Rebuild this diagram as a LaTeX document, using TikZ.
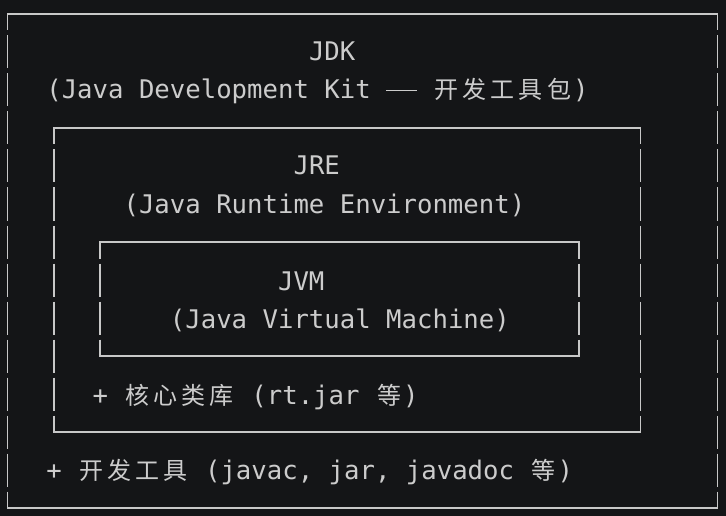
\documentclass[tikz,border=0pt]{standalone}
\usepackage{fontspec}
\newfontfamily\monof{DejaVu Sans Mono}
\newfontfamily\cjkfam{Noto Sans CJK SC}
\definecolor{bgc}{HTML}{141517}
\definecolor{txc}{HTML}{CCCCCC}
\definecolor{lnc}{HTML}{C8C8C8}
\newcommand\cjc[1]{\makebox[28.1pt][c]{\cjkfam\fontsize{24pt}{24pt}\selectfont #1}}
\newcommand\ddash{\makebox[30.9pt][c]{\rule[7.5pt]{31pt}{1.6pt}}}
\tikzset{
  vline/.style={draw=lnc, line width=1.7pt, dash pattern=on 33pt off 5pt, dash phase=16.5pt},
  hline/.style={draw=lnc, line width=1.7pt, line cap=rect},
  txt/.style={anchor=base west, inner sep=0pt, outer sep=0pt, text=txc,
    font=\monof\fontsize{25.66pt}{30pt}\selectfont}
}
\begin{document}
\begin{tikzpicture}[x=1pt,y=-1pt]
\fill[bgc] (0,0) rectangle (726,516);
\useasboundingbox (0,0) rectangle (726,516);
% outer box (JDK)
\draw[hline] (7.5,14) -- (717.5,14);
\draw[hline] (7.5,508) -- (717.5,508);
\draw[vline] (7.5,14) -- (7.5,508);
\draw[vline] (717.5,14) -- (717.5,508);
% JRE box
\draw[hline] (54,128) -- (640.5,128);
\draw[hline] (54,432) -- (640.5,432);
\draw[vline] (54,128) -- (54,432);
\draw[vline] (640.5,128) -- (640.5,432);
% JVM box
\draw[hline] (100.2,242) -- (579,242);
\draw[hline] (100.2,356) -- (579,356);
\draw[vline] (100.2,242) -- (100.2,356);
\draw[vline] (579,242) -- (579,356);
% texts
\node[txt] (jdk) at (309,61) {JDK};
\node[txt] (jdkfull) at (46.35,99) {(Java Development Kit \ddash{} \cjc{开}\cjc{发}\cjc{工}\cjc{具}\cjc{包})};
\node[txt] (jre) at (293.55,175) {JRE};
\node[txt] (jrefull) at (123.6,213) {(Java Runtime Environment)};
\node[txt] (jvm) at (278.1,290) {JVM};
\node[txt] (jvmfull) at (169.95,328) {(Java Virtual Machine)};
\node[txt] (corelib) at (92.7,404) {+ \cjc{核}\cjc{心}\cjc{类}\cjc{库} (rt.jar \cjc{等})};
\node[txt] (devtools) at (46.35,479) {+ \cjc{开}\cjc{发}\cjc{工}\cjc{具} (javac, jar, javadoc \cjc{等})};
\end{tikzpicture}
\end{document}
